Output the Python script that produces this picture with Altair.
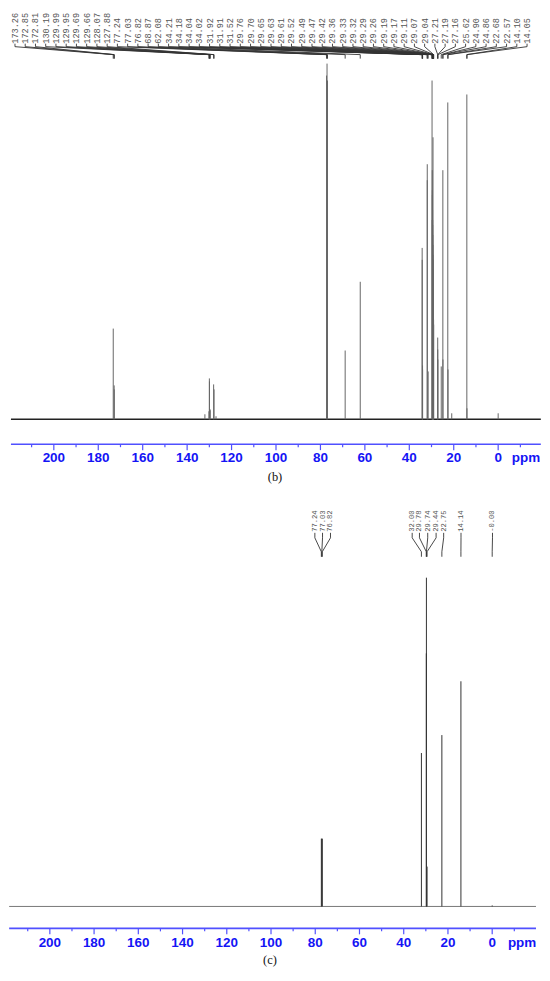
import altair as alt
import pandas as pd

# ---------------- data ----------------
# panel (b): labelled peaks (ppm) and their heights (arbitrary units)
b_ppm = [173.26, 172.85, 172.81, 130.19, 129.99, 129.95, 129.69, 129.66, 128.07, 127.88,
         77.24, 77.03, 76.82, 68.87, 62.08, 34.21, 34.18, 34.04, 34.02, 31.92, 31.91, 31.52,
         29.76, 29.70, 29.65, 29.63, 29.61, 29.52, 29.49, 29.47, 29.42, 29.36, 29.33, 29.32,
         29.29, 29.26, 29.19, 29.17, 29.11, 29.07, 29.04, 27.21, 27.19, 27.16, 25.62, 24.90,
         24.86, 22.68, 22.57, 14.10, 14.05]
b_int = [91, 34, 30, 8, 41, 38, 10, 9, 35, 30,
         345, 357, 340, 69, 138, 172, 160, 54, 50, 256, 240, 48,
         340, 200, 250, 230, 225, 210, 200, 195, 185, 175, 283, 165,
         160, 150, 130, 120, 110, 100, 95, 82, 70, 60, 53, 250,
         60, 318, 50, 326, 11]
# small unlabelled peaks in (b)
b_minor_ppm = [132.0, 127.0, 20.9, 0.0]
b_minor_int = [5, 3, 6, 6]

# panel (c)
c_ppm = [77.24, 77.03, 76.82, 32.00, 29.78, 29.74, 29.44, 22.75, 14.14, -0.00]
c_int = [68, 68, 68, 154, 254, 330, 40, 172, 226, 1]
c_text = ["77.24", "77.03", "76.82", "32.00", "29.78", "29.74", "29.44", "22.75", "14.14", "-0.00"]

major_ticks = [200, 180, 160, 140, 120, 100, 80, 60, 40, 20, 0]
minor_ticks = [210, 190, 170, 150, 130, 110, 90, 70, 50, 30, 10, -10]

# ---------------- layout ----------------
W = 534
BLUE = "#1414f5"
AXBLUE = "#5050ff"


def px_to_ppm(px, dom):
    return dom[0] + (px / W) * (dom[1] - dom[0])


def panel(dom, H, ydom, peaks, minor, labels, lay, caption, base_style, peak_color, lab_font):
    xs = alt.Scale(domain=list(dom), nice=False, zero=False)
    ys = alt.Scale(domain=list(ydom), nice=False, zero=False)

    def X(f):
        return alt.X(f, type="quantitative", scale=xs, axis=None)

    def Y(f):
        return alt.Y(f, type="quantitative", scale=ys, axis=None)

    layers = []
    # spectrum baseline
    bl = pd.DataFrame({"x0": [lay["ax0"]], "x1": [lay["ax1"]], "y": [0]})
    layers.append(alt.Chart(bl).mark_rule(**base_style).encode(
        x=X("x0"), x2="x1", y=Y("y")))
    # peaks
    pk = pd.DataFrame(peaks)
    pk["z"] = 0
    layers.append(alt.Chart(pk).mark_rule(color=peak_color, strokeWidth=1).encode(
        x=X("ppm"), y=Y("z"), y2="h"))
    if minor is not None:
        mk = pd.DataFrame(minor)
        mk["z"] = 0
        layers.append(alt.Chart(mk).mark_rule(color=peak_color, strokeWidth=1).encode(
            x=X("ppm"), y=Y("z"), y2="h"))
    # labels + fans
    lb = pd.DataFrame(labels)
    for k in ("t0", "t1", "t2", "t3", "t4"):
        lb[k] = lay[k]
    layers.append(alt.Chart(lb).mark_text(angle=270, align="left", baseline="middle",
                                          font=lab_font[0], fontSize=lab_font[1],
                                          color="#555555").encode(
        x=X("lx"), y=Y("t0"), text="t:N"))
    fan = dict(color="#333333", strokeWidth=0.9)
    layers.append(alt.Chart(lb).mark_rule(**fan).encode(x=X("lx"), y=Y("t1"), y2="t2"))
    layers.append(alt.Chart(lb).mark_rule(**fan).encode(x=X("lx"), x2="ppm", y=Y("t2"), y2="t3"))
    layers.append(alt.Chart(lb).mark_rule(**fan).encode(x=X("ppm"), y=Y("t3"), y2="t4"))
    # axis
    ax = pd.DataFrame({"x0": [lay["ax0"]], "x1": [lay["ax1"]], "y": [lay["ay"]]})
    layers.append(alt.Chart(ax).mark_rule(color=AXBLUE, strokeWidth=1.6).encode(
        x=X("x0"), x2="x1", y=Y("y")))
    mj = pd.DataFrame({"v": major_ticks})
    mj["y0"] = lay["ay"]
    mj["y1"] = lay["ay"] - 6
    mj["ly"] = lay["ly"]
    mn = pd.DataFrame({"v": minor_ticks})
    mn["y0"] = lay["ay"]
    mn["y1"] = lay["ay"] - 3
    layers.append(alt.Chart(mj).mark_rule(color=AXBLUE, strokeWidth=1.2).encode(
        x=X("v"), y=Y("y0"), y2="y1"))
    layers.append(alt.Chart(mn).mark_rule(color=AXBLUE, strokeWidth=1.2).encode(
        x=X("v"), y=Y("y0"), y2="y1"))
    layers.append(alt.Chart(mj).mark_text(font="Liberation Sans", fontWeight="bold",
                                          fontSize=13.5, color=BLUE, baseline="middle").encode(
        x=X("v"), y=Y("ly"), text=alt.Text("v:Q", format="d")))
    pp = pd.DataFrame({"x": [lay["ppmx"]], "y": [lay["ly"]], "t": ["ppm"]})
    layers.append(alt.Chart(pp).mark_text(font="Liberation Sans", fontWeight="bold",
                                          fontSize=13.5, color=BLUE, baseline="middle").encode(
        x=X("x"), y=Y("y"), text="t:N"))
    cp = pd.DataFrame({"x": [lay["capx"]], "y": [lay["cy"]], "t": [caption]})
    layers.append(alt.Chart(cp).mark_text(font="Liberation Serif", fontSize=12.5,
                                          color="#111111", baseline="middle").encode(
        x=X("x"), y=Y("y"), text="t:N"))
    return alt.layer(*layers).properties(width=W, height=H)


# ----- panel (b) -----
dom_b = (220.18, -19.28)
n = len(b_ppm)
b_lx = [px_to_ppm(6 + i * (514 / (n - 1)), dom_b) for i in range(n)]
b_labels = {"t": ["%.2f" % v for v in b_ppm], "lx": b_lx, "ppm": b_ppm}
lay_b = dict(t0=377, t1=377, t2=374, t3=366, t4=362, ax0=219.3, ax1=-19.2, ay=-25, ly=-39,
             ppmx=px_to_ppm(519, dom_b), capx=px_to_ppm(267, dom_b), cy=-58)
chart_b = panel(dom_b, 477, (-66, 411),
                {"ppm": b_ppm, "h": b_int}, {"ppm": b_minor_ppm, "h": b_minor_int},
                b_labels, lay_b, "(b)", dict(color="#222222", strokeWidth=1.6), "#666666",
                ("Liberation Mono", 8.6))

# ----- panel (c) -----
dom_c = (218.47, -22.07)
c_lpx = [307, 314.7, 322.7, 404.7, 412, 420.3, 428.7, 436.3, 453.7, 485.3]
c_lx = [px_to_ppm(p, dom_c) for p in c_lpx]
c_labels = {"t": c_text, "lx": c_lx, "ppm": c_ppm}
lay_c = dict(t0=376, t1=375, t2=370, t3=356, t4=351, ax0=218.4, ax1=-19.8, ay=-22, ly=-37,
             ppmx=px_to_ppm(515, dom_c), capx=px_to_ppm(262, dom_c), cy=-54)
chart_c = panel(dom_c, 488, (-65, 423),
                {"ppm": c_ppm, "h": c_int}, None,
                c_labels, lay_c, "(c)", dict(color="#777777", strokeWidth=1.0), "#333333",
                ("Liberation Mono", 7.2))

chart = alt.vconcat(chart_b, chart_c, spacing=0).properties(padding=0).configure_view(stroke=None)
chart.save("out.html", embed_options={"renderer": "svg", "actions": False})
